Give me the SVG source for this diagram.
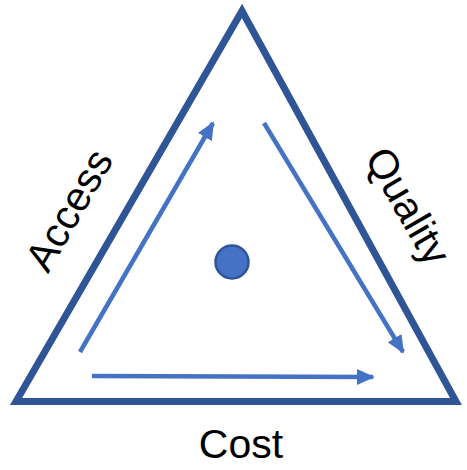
<svg xmlns="http://www.w3.org/2000/svg" width="467" height="470" viewBox="0 0 467 470">
  <style>
    .frame { fill: none; stroke: #2F5597; stroke-width: 7; stroke-linejoin: miter; stroke-miterlimit: 10; }
    .flow { fill: none; stroke: #4472C4; stroke-width: 4.5; marker-end: url(#head); }
    .label { font-family: "Liberation Sans", Arial, sans-serif; font-size: 41px; fill: #000; text-anchor: middle; }
    .hub { fill: #4472C4; stroke: #2F5597; stroke-width: 2.5; }
  </style>
  <defs>
    <marker id="head" viewBox="0 0 4 4" refX="3.6" refY="2" markerWidth="4" markerHeight="4" markerUnits="strokeWidth" orient="auto">
      <path d="M0,0.2 L4,2 L0,3.8 Z" fill="#4472C4"/>
    </marker>
  </defs>

  <g id="triangle">
    <polygon class="frame" points="242,11 456,401.5 16,401.5"/>
  </g>

  <g id="connectors">
    <line class="flow" x1="80" y1="352" x2="213" y2="123"/>
    <line class="flow" x1="264" y1="123" x2="403" y2="352"/>
    <line class="flow" x1="92" y1="376" x2="373" y2="377"/>
  </g>

  <g id="center">
    <circle class="hub" cx="232" cy="262" r="16.5"/>
  </g>

  <g id="access">
    <text class="label" transform="translate(69,210) rotate(-60)" y="14">Access</text>
  </g>
  <g id="quality">
    <text class="label" transform="translate(408,206) rotate(60)" y="14">Quality</text>
  </g>
  <g id="cost">
    <text class="label" x="241" y="458">Cost</text>
  </g>
</svg>
